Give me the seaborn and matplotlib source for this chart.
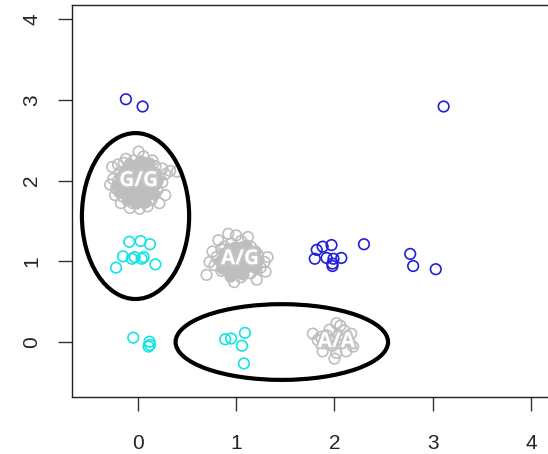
import matplotlib
matplotlib.use('Agg')
import matplotlib.pyplot as plt
import matplotlib.patheffects as pe
from matplotlib.patches import Ellipse
import seaborn as sns
import pandas as pd

# genotype clusters (grey)
# outer points of each cluster (open rings)
gg_x = [-0.26, 0.01, -0.08, 0.28, 0.40, 0.33, 0.25, -0.20, -0.12, 0.06, 0.15, 0.22, 0.18, 0.12, 0.05,
        -0.05, -0.15, -0.22, -0.25, -0.18, -0.10, 0.00, 0.10, 0.15, 0.08, -0.02, -0.12, -0.08, 0.03, 0.12,
        0.20, -0.17, 0.02, 0.10, -0.03, -0.20, 0.25, 0.18, -0.14, 0.07, -0.06, 0.14, -0.23, 0.22, -0.10,
        0.05, 0.28, -0.28, 0.00, -0.04]
gg_y = [2.17, 2.36, 1.66, 1.82, 2.11, 2.12, 2.15, 2.20, 2.27, 2.30, 2.25, 2.05, 1.95, 1.85, 1.75,
        1.72, 1.80, 1.90, 2.02, 2.10, 2.15, 2.18, 2.12, 2.05, 1.95, 1.92, 1.98, 2.05, 2.02, 1.98,
        1.88, 1.72, 1.65, 1.68, 1.85, 2.00, 1.98, 2.18, 2.22, 2.22, 1.78, 1.76, 1.82, 1.72, 1.90,
        1.88, 2.08, 1.95, 2.10, 2.25]
# dense core of the G/G cluster
gg_core_x = [-0.18, -0.14, -0.09, -0.03, 0.04, 0.09, 0.16, 0.20, 0.16, 0.10, 0.03, -0.05, -0.13, -0.19, -0.10,
             -0.01, 0.08, 0.17, 0.13, 0.06, -0.01, -0.06, -0.15, -0.08, 0.01, 0.10, 0.19, -0.21, -0.11, 0.07,
             0.00, -0.04, 0.14, -0.16, 0.02, -0.10, 0.11, -0.02]
gg_core_y = [2.05, 2.12, 2.20, 2.14, 2.16, 2.19, 2.11, 2.00, 1.92, 1.90, 1.95, 1.98, 1.93, 1.86, 1.83,
             1.80, 1.82, 1.83, 2.08, 2.07, 2.04, 2.10, 2.04, 1.95, 1.88, 2.02, 2.07, 1.95, 1.76, 1.74,
             1.98, 1.90, 1.96, 1.98, 2.24, 2.07, 2.22, 1.72]

ag_x = [0.70, 0.92, 1.12, 1.29, 1.21, 0.73, 0.82, 0.85, 0.95, 1.05, 1.15, 1.22, 1.25, 1.15, 1.05,
        0.95, 0.85, 0.78, 0.80, 0.90, 1.00, 1.10, 1.18, 1.08, 0.98, 0.90, 1.02, 0.88, 1.12, 1.30,
        0.98, 1.32, 0.76, 1.00]
ag_y = [0.83, 1.34, 1.30, 0.99, 0.77, 0.99, 1.26, 1.15, 1.22, 1.25, 1.18, 1.08, 0.92, 0.85, 0.80,
        0.82, 0.88, 0.95, 1.05, 1.05, 1.10, 1.05, 0.98, 0.92, 0.95, 0.95, 1.00, 1.18, 1.12, 0.87,
        0.74, 1.05, 1.12, 1.32]
ag_core_x = [0.88, 0.93, 0.99, 1.06, 1.13, 1.16, 1.14, 1.06, 0.99, 0.91, 0.86, 0.93, 0.96, 1.04, 1.09,
             1.03, 0.95, 1.01, 0.87, 1.19, 1.10, 0.84, 1.07, 0.94, 1.20, 0.86, 1.22]
ag_core_y = [1.10, 1.15, 1.18, 1.17, 1.10, 1.02, 0.94, 0.88, 0.86, 0.89, 0.98, 1.00, 1.08, 1.06, 0.99,
             0.93, 0.92, 1.02, 1.04, 1.12, 1.20, 1.00, 0.84, 0.82, 0.92, 0.92, 1.02]

aa_x = [1.78, 2.02, 2.06, 2.17, 2.19, 2.00, 1.88, 1.83, 1.92, 2.08, 1.98, 2.12, 1.95, 2.10, 1.90, 2.02,
        2.04, 1.96, 2.14, 1.86]
aa_y = [0.10, 0.23, 0.20, 0.10, -0.06, -0.21, -0.12, 0.02, 0.08, 0.02, -0.05, -0.12, 0.15, 0.14, -0.02, -0.14,
        0.08, 0.02, 0.03, 0.06]

# cyan points
cy_x = [-0.085, 0.03, 0.125, -0.15, -0.06, -0.03, 0.04, 0.18, -0.22, 0.06,
        -0.045, 0.12, 0.125, 0.11,
        0.89, 0.95, 1.09, 1.06, 1.08]
cy_y = [1.24, 1.25, 1.21, 1.06, 1.03, 1.05, 1.03, 0.96, 0.92, 1.05,
        0.05, 0.00, -0.04, -0.06,
        0.03, 0.04, 0.11, -0.05, -0.27]

# blue points
bl_x = [-0.12, 0.05, 3.11, 1.80, 1.82, 1.88, 1.97, 1.92, 1.99, 1.98, 1.98, 2.07, 2.30, 2.77, 2.80, 3.03]
bl_y = [3.01, 2.92, 2.92, 1.03, 1.14, 1.18, 1.20, 1.04, 1.03, 0.97, 0.94, 1.04, 1.21, 1.09, 0.94, 0.90]

labels = ['G/G', 'A/G', 'A/A']
label_x = [0.01, 1.04, 2.02]
label_y = [2.0, 1.03, 0.0]

grey = pd.DataFrame({'x': gg_x + ag_x + aa_x, 'y': gg_y + ag_y + aa_y})
core = pd.DataFrame({'x': gg_core_x + ag_core_x, 'y': gg_core_y + ag_core_y})

sns.set_style('ticks')
plt.rcParams['font.family'] = ['Liberation Sans', 'DejaVu Sans']

fig = plt.figure(figsize=(5.48, 4.54), dpi=100)
ax = fig.add_axes([0.131, 0.1256, 0.9586, 0.8634])

pt = dict(marker='o', s=58, linewidth=1.2, ax=ax, legend=False)
sns.scatterplot(data=grey, x='x', y='y', facecolor='none', edgecolor='#BEBEBE', **pt)
sns.scatterplot(data=core, x='x', y='y', facecolor='#BEBEBE', edgecolor='#BEBEBE', **pt)
sns.scatterplot(x=cy_x, y=cy_y, facecolor='none', edgecolor='#14E4E4', **pt)
sns.scatterplot(x=bl_x, y=bl_y, facecolor='none', edgecolor='#2020D8', **pt)

for t, lx, ly in zip(labels, label_x, label_y):
    ax.text(lx, ly, t, color='white', fontsize=15, fontweight='bold',
            family=['Open Sans', 'DejaVu Sans'], ha='center', va='center', zorder=5,
            path_effects=[pe.withStroke(linewidth=3, foreground='#C4C4C4')])

ax.add_patch(Ellipse((-0.022, 1.56), 1.09, 2.06, fill=False, edgecolor='black', linewidth=3, zorder=6))
ax.add_patch(Ellipse((1.465, -0.004), 2.16, 0.94, fill=False, edgecolor='black', linewidth=3, zorder=6))

ax.set_xlim(-0.67, 4.67)
ax.set_ylim(-0.686, 4.18)
ax.set_xticks([0, 1, 2, 3, 4])
ax.set_yticks([0, 1, 2, 3, 4])
ax.set_xlabel('')
ax.set_ylabel('')
for s in ax.spines.values():
    s.set_color('#222222')
    s.set_linewidth(1.0)
ax.tick_params(axis='x', length=10, width=1.0, pad=17, labelsize=15, color='#333333')
ax.tick_params(axis='y', length=10, width=1.0, pad=12, labelsize=15, color='#333333')
for lab in ax.get_yticklabels():
    lab.set_rotation(90)
    lab.set_va('center')

fig.savefig('out.png', dpi=100)
